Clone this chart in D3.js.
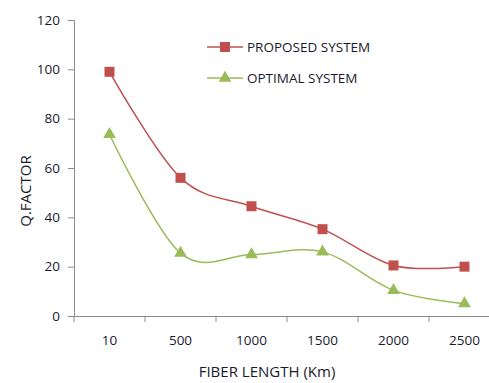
<!DOCTYPE html>
<html>
<head>
<meta charset="utf-8">
<script src="https://cdn.jsdelivr.net/npm/d3@7"></script>
<style>
  body { margin: 0; background: #fff; }
  text { font-family: "Open Sans", sans-serif; fill: #1a1a2e; }
</style>
</head>
<body>
<div id="chart"></div>
<script>
const fiberLengths = ['10', '500', '1000', '1500', '2000', '2500'];
const proposed = [99, 56, 44.5, 35.2, 20.5, 20];
const optimal = [73.6, 25.5, 24.9, 26, 10.4, 5];
const yTicks = [0, 20, 40, 60, 80, 100, 120];

const width = 489;
const height = 383;
const margin = { left: 74, top: 20, bottom: 67 };

const svg = d3.select('#chart')
  .append('svg')
  .attr('width', width)
  .attr('height', height);

const x = d3.scaleBand()
  .domain(fiberLengths)
  .range([margin.left, margin.left + 6 * 71]);

const y = d3.scaleLinear()
  .domain([0, 120])
  .range([height - margin.bottom, margin.top]);

// y axis
const yAxis = svg.append('g')
  .attr('transform', `translate(${margin.left},0)`)
  .call(d3.axisLeft(y).tickValues(yTicks).tickSize(6).tickPadding(8));
yAxis.select('.domain').attr('stroke', '#8c8c8c');
yAxis.selectAll('.tick line').attr('stroke', '#8c8c8c');
yAxis.selectAll('text').style('font-size', '13.5px');

// x axis
const xAxis = svg.append('g')
  .attr('transform', `translate(0,${y(0)})`)
  .call(d3.axisBottom(x).tickSize(0).tickPadding(19));
xAxis.select('.domain').attr('stroke', '#8c8c8c');
xAxis.selectAll('text').style('font-size', '13.5px');

// ticks between categories
xAxis.selectAll('.sep')
  .data(fiberLengths.concat(['end']))
  .enter()
  .append('line')
  .attr('class', 'sep')
  .attr('x1', (d, i) => margin.left + i * x.step())
  .attr('x2', (d, i) => margin.left + i * x.step())
  .attr('y1', 0)
  .attr('y2', 6)
  .attr('stroke', '#8c8c8c');

svg.append('text')
  .attr('x', 267)
  .attr('y', 377)
  .attr('text-anchor', 'middle')
  .style('font-size', '15px')
  .text('FIBER LENGTH (Km)');

svg.append('text')
  .attr('transform', 'translate(31,191) rotate(-90)')
  .attr('text-anchor', 'middle')
  .style('font-size', '15px')
  .text('Q.FACTOR');

const cx = (d, i) => x(fiberLengths[i]) + x.bandwidth() / 2;

const line = d3.line()
  .x(cx)
  .y(d => y(d))
  .curve(d3.curveCardinal.tension(0));

const series = [
  { name: 'PROPOSED SYSTEM', values: proposed, color: '#c0504d', symbol: d3.symbolSquare, size: 100 },
  { name: 'OPTIMAL SYSTEM', values: optimal, color: '#9bbb59', symbol: d3.symbolTriangle, size: 70 }
];

series.forEach((s, k) => {
  svg.append('path')
    .datum(s.values)
    .attr('fill', 'none')
    .attr('stroke', s.color)
    .attr('stroke-width', 1.5)
    .attr('d', line);

  svg.append('g')
    .selectAll('path')
    .data(s.values)
    .enter()
    .append('path')
    .attr('transform', (d, i) => `translate(${cx(d, i)},${y(d)})`)
    .attr('d', d3.symbol().type(s.symbol).size(s.size))
    .attr('fill', s.color);

  // legend
  const ly = 47 + k * 31;
  const lg = svg.append('g').attr('transform', `translate(207,${ly})`);
  lg.append('line')
    .attr('x1', 0).attr('x2', 36)
    .attr('stroke', s.color).attr('stroke-width', 1.5);
  lg.append('path')
    .attr('transform', 'translate(18,0)')
    .attr('d', d3.symbol().type(s.symbol).size(s.size))
    .attr('fill', s.color);
  lg.append('text')
    .attr('x', 40)
    .attr('dy', '0.35em')
    .style('font-size', '13.5px')
    .text(s.name);
});
</script>
</body>
</html>
